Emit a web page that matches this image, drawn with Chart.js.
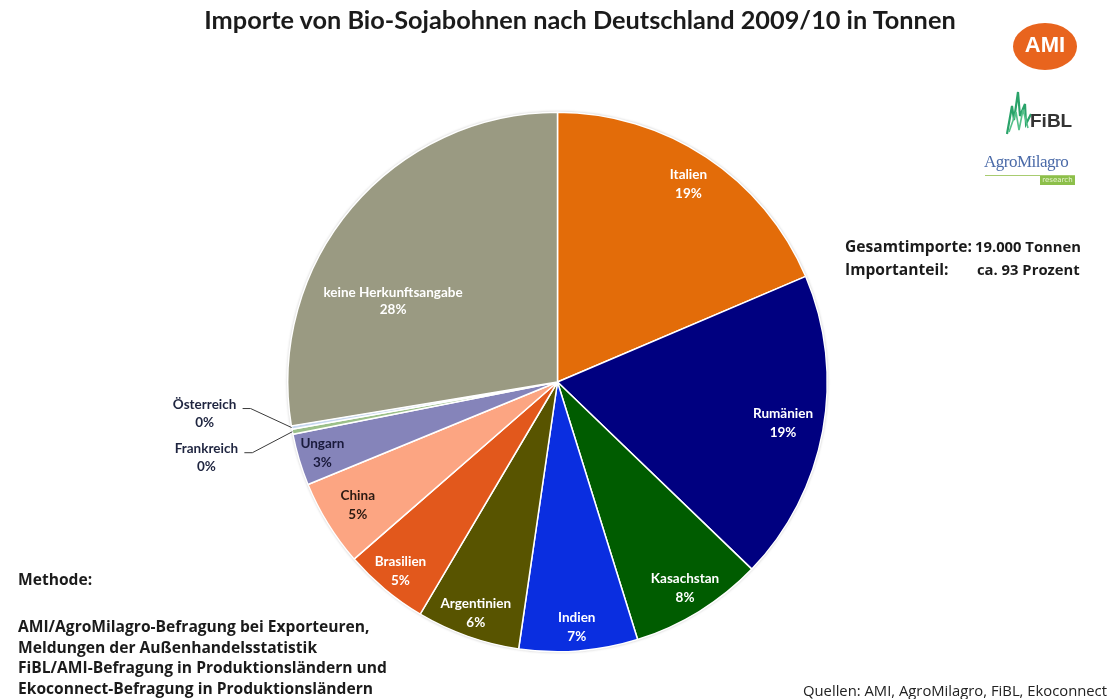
<!DOCTYPE html>
<html>
<head>
<meta charset="utf-8">
<script src="https://cdn.jsdelivr.net/npm/chart.js@4.4.0/dist/chart.umd.min.js"></script>
<style>
    body { margin: 0; background: #fff; font-family: Lato, "Open Sans", sans-serif; }
    #wrap { position: relative; width: 1115px; height: 699px; overflow: hidden; }
    #pie { position: absolute; left: 0; top: 0; }
    .t { position: absolute; white-space: nowrap; font-weight: bold; color: #1b1b1b; }
    .n { font-family: "Open Sans", Lato, sans-serif; font-size: 15.6px; }
</style>
</head>
<body>
<div id="wrap">
    <canvas id="pie" width="1115" height="699"></canvas>

    <div class="t" style="left:0;width:1160px;top:4px;text-align:center;font-size:25.3px;">Importe von Bio-Sojabohnen nach Deutschland 2009/10 in Tonnen</div>

    <!-- logos -->
    <div style="position:absolute;left:1013px;top:23px;width:64px;height:47px;border-radius:50%;background:#e8641e;"></div>
    <div class="t" style="left:1013px;width:64px;top:32px;text-align:center;font-size:22px;color:#fff;font-family:'Liberation Sans',Arial,sans-serif;">AMI</div>
    <svg style="position:absolute;left:1004px;top:86px" width="30" height="50">
        <polyline points="3,48 8,20 10,34 14,6 16,30 21,18 22,38 27,28" fill="none" stroke="#2aa36a" stroke-width="2.2"/>
        <polyline points="5,46 12,26 15,44 19,24 24,42" fill="none" stroke="#55c08a" stroke-width="1.6"/>
    </svg>
    <div class="t" style="left:1030px;top:110px;font-size:19px;color:#333;font-family:'Liberation Sans',Arial,sans-serif;">FiBL</div>
    <div style="position:absolute;left:984px;top:152px;font-family:'Liberation Serif','DejaVu Serif',serif;font-size:17px;color:#4a6aa8;letter-spacing:-0.5px;">AgroMilagro</div>
    <div style="position:absolute;left:985px;top:175px;width:90px;height:1px;background:#a8cc70;"></div>
    <div style="position:absolute;left:1040px;top:176px;width:35px;height:9px;background:#8cbf4a;color:#e8f4d0;font-size:7px;line-height:9px;text-align:center;font-family:'DejaVu Sans',sans-serif;">research</div>

    <div class="t n" style="left:845px;top:235px;">Gesamtimporte:</div>
    <div class="t n" style="left:975px;top:236px;font-size:14.8px;">19.000 Tonnen</div>
    <div class="t n" style="left:845px;top:258px;">Importanteil:</div>
    <div class="t n" style="left:977px;top:259px;font-size:14.8px;">ca. 93 Prozent</div>

    <div class="t n" style="left:18px;top:568px;">Methode:</div>
    <div class="t n" style="left:18px;top:616px;line-height:20.7px;">AMI/AgroMilagro-Befragung bei Exporteuren,<br>Meldungen der Außenhandelsstatistik<br>FiBL/AMI-Befragung in Produktionsländern und<br>Ekoconnect-Befragung in Produktionsländern</div>

    <div class="t n" style="left:803px;top:680px;font-size:14.8px;font-weight:normal;color:#222;">Quellen: AMI, AgroMilagro, FiBL, Ekoconnect</div>
</div>

<script>
// Bio-Sojabohnen Importe 2009/10, Anteile in Prozent
const countries = ['Italien', 'Rumänien', 'Kasachstan', 'Indien', 'Argentinien', 'Brasilien',
                   'China', 'Ungarn', 'Frankreich', 'Österreich', 'keine Herkunftsangabe'];
const shares = [18.6, 18.6, 8.0, 7.1, 6.2, 5.1, 5.2, 3.1, 0.3, 0.2, 27.6];

const sliceColors = ['#e36c09', '#000080', '#005c00', '#0a2ee0', '#585400', '#e2581c',
                     '#fca582', '#8584ba', '#9cc08a', '#c8d8f0', '#9a9a82'];
const labelColors = ['#fff', '#fff', '#fff', '#fff', '#fff', '#fff',
                     '#2b1a12', '#1a1a3c', '#1f2540', '#1f2540', '#fff'];
// label placement: fraction of radius and a small angle shift (degrees)
const labelRadius = [0.88, 0.85, 0.9, 0.91, 0.91, 0.91, 0.87, 0.91, 0, 0, 0.68];
const labelShift = [0, 0, 0, 0, 0, 0, 0, 0, 0, 0, -14];
// tiny slices get a label outside with a leader line
const outsideLabels = {
    8: { dx: -86, dy: 17 },
    9: { dx: -87, dy: -23 }
};

const pieShadow = {
    id: 'pieShadow',
    beforeDatasetsDraw(chart) {
        const arc = chart.getDatasetMeta(0).data[0];
        const ctx = chart.ctx;
        ctx.save();
        ctx.shadowColor = 'rgba(0,0,0,0.35)';
        ctx.shadowBlur = 3;
        ctx.fillStyle = '#ccc';
        ctx.beginPath();
        ctx.arc(arc.x, arc.y, arc.outerRadius, 0, Math.PI * 2);
        ctx.fill();
        ctx.restore();
    }
};

const sliceLabels = {
    id: 'sliceLabels',
    afterDatasetsDraw(chart) {
        const ctx = chart.ctx;
        const meta = chart.getDatasetMeta(0);
        const total = shares.reduce((a, b) => a + b, 0);
        ctx.save();
        ctx.textAlign = 'center';
        ctx.textBaseline = 'middle';
        ctx.font = 'bold 13.5px Lato, "Open Sans", sans-serif';

        meta.data.forEach((arc, i) => {
            const { x, y, startAngle, endAngle, outerRadius } =
                arc.getProps(['x', 'y', 'startAngle', 'endAngle', 'outerRadius'], true);
            const mid = (startAngle + endAngle) / 2 + labelShift[i] * Math.PI / 180;
            const pct = Math.round(shares[i] / total * 100) + '%';
            ctx.fillStyle = labelColors[i];

            if (outsideLabels[i]) {
                const ex = x + Math.cos(mid) * outerRadius;
                const ey = y + Math.sin(mid) * outerRadius;
                const tx = ex + outsideLabels[i].dx;
                const ty = ey + outsideLabels[i].dy;
                ctx.strokeStyle = '#3a3a3a';
                ctx.lineWidth = 1;
                ctx.beginPath();
                ctx.moveTo(tx + 38, ty + 4);
                ctx.lineTo(tx + 46, ty + 4);
                ctx.lineTo(ex, ey);
                ctx.stroke();
                ctx.fillText(countries[i], tx, ty);
                ctx.fillText(pct, tx, ty + 18);
                return;
            }

            const r = outerRadius * labelRadius[i];
            const lx = x + Math.cos(mid) * r;
            const ly = y + Math.sin(mid) * r;
            const gap = i === 10 ? 8.5 : 9.5;
            ctx.fillText(countries[i], lx, ly - gap);
            ctx.fillText(pct, lx, ly + gap);
        });
        ctx.restore();
    }
};

new Chart(document.getElementById('pie').getContext('2d'), {
    type: 'pie',
    data: {
        labels: countries,
        datasets: [{
            data: shares,
            backgroundColor: sliceColors,
            borderColor: '#ffffff',
            borderWidth: 1.5
        }]
    },
    options: {
        responsive: false,
        animation: false,
        layout: { padding: { left: 287, right: 287, top: 111, bottom: 46 } },
        plugins: {
            legend: { display: false },
            tooltip: { enabled: false }
        }
    },
    plugins: [pieShadow, sliceLabels]
});
</script>
</body>
</html>
